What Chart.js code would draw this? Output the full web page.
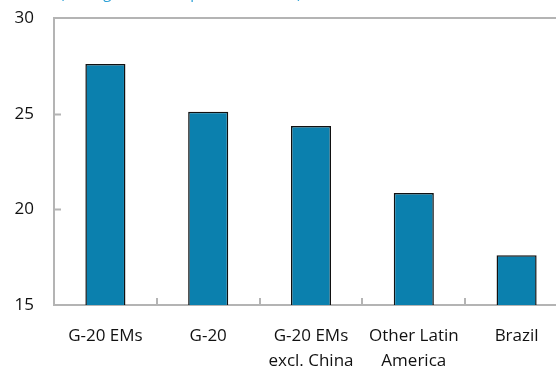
<!DOCTYPE html>
<html>
<head>
<meta charset="utf-8">
<script src="https://cdn.jsdelivr.net/npm/chart.js@4"></script>
<style>
  html, body { margin: 0; padding: 0; overflow: hidden; background: #fff; }
  #wrap { position: relative; width: 580px; height: 368px; }
</style>
</head>
<body>
<div id="wrap"><canvas id="chart"></canvas></div>
<script>
const categories = [["G-20 EMs"], ["G-20"], ["G-20 EMs", "excl. China"], ["Other Latin", "America"], ["Brazil"]];
const debtValues = [27.6, 25.1, 24.35, 20.85, 17.6];
const yTicks = [15, 20, 25, 30];
const subtitle = "(average 2010\u201313, percent of GDP)";

const axisGrey = "#b4b4b4";

// draws the clipped subtitle, top frame line and the inward tick marks
const framePlugin = {
    id: "frame",
    afterDraw(chart) {
        const ctx = chart.ctx;
        const area = chart.chartArea;
        const x = chart.scales.x;
        const y = chart.scales.y;
        ctx.save();
        ctx.strokeStyle = axisGrey;
        ctx.lineWidth = 2;
        ctx.beginPath();
        ctx.moveTo(area.left, area.top);
        ctx.lineTo(area.right, area.top);
        ctx.lineTo(area.right, area.bottom);
        ctx.stroke();

        ctx.beginPath();
        yTicks.slice(1, -1).forEach(v => {
            const py = Math.round(y.getPixelForValue(v)) + 0.5;
            ctx.moveTo(area.left, py);
            ctx.lineTo(area.left + 7, py);
        });
        for (let i = 1; i < categories.length; i++) {
            const px = Math.round((x.getPixelForValue(i - 1) + x.getPixelForValue(i)) / 2);
            ctx.moveTo(px, area.bottom);
            ctx.lineTo(px, area.bottom - 7);
        }
        ctx.stroke();

        ctx.fillStyle = "#2aa0d6";
        ctx.font = "15px 'Open Sans'";
        ctx.textBaseline = "alphabetic";
        ctx.fillText(subtitle, 60, -2);
        ctx.restore();
    }
};

new Chart(document.getElementById("chart"), {
    type: "bar",
    data: {
        labels: categories,
        datasets: [{
            data: debtValues,
            backgroundColor: "#0b80ae",
            borderColor: "#111111",
            borderWidth: 1.5,
            barPercentage: 0.39,
            categoryPercentage: 1.0
        }]
    },
    options: {
        responsive: true,
        maintainAspectRatio: false,
        animation: false,
        layout: { padding: { top: 18, right: 12, left: 0, bottom: 0 } },
        plugins: {
            legend: { display: false },
            tooltip: { enabled: false }
        },
        scales: {
            x: {
                grid: { display: false, drawTicks: false },
                border: { display: true, color: axisGrey, width: 2 },
                ticks: {
                    color: "#111",
                    font: { family: "'Open Sans'", size: 17, lineHeight: 1.45 },
                    padding: 19,
                    maxRotation: 0,
                    autoSkip: false
                },
                afterFit(scale) {
                    scale.height = 63;
                    scale.paddingLeft = 0;
                    scale.paddingRight = 0;
                }
            },
            y: {
                min: 15,
                max: 30,
                afterBuildTicks(scale) { scale.ticks = yTicks.map(v => ({ value: v })); },
                grid: { display: false, drawTicks: false },
                border: { display: true, color: axisGrey, width: 2 },
                ticks: {
                    color: "#111",
                    font: { family: "'Open Sans'", size: 17 },
                    padding: 20
                },
                afterFit(scale) {
                    scale.width = 54;
                    scale.paddingTop = 0;
                    scale.paddingBottom = 0;
                }
            }
        }
    },
    plugins: [framePlugin]
});
</script>
</body>
</html>
